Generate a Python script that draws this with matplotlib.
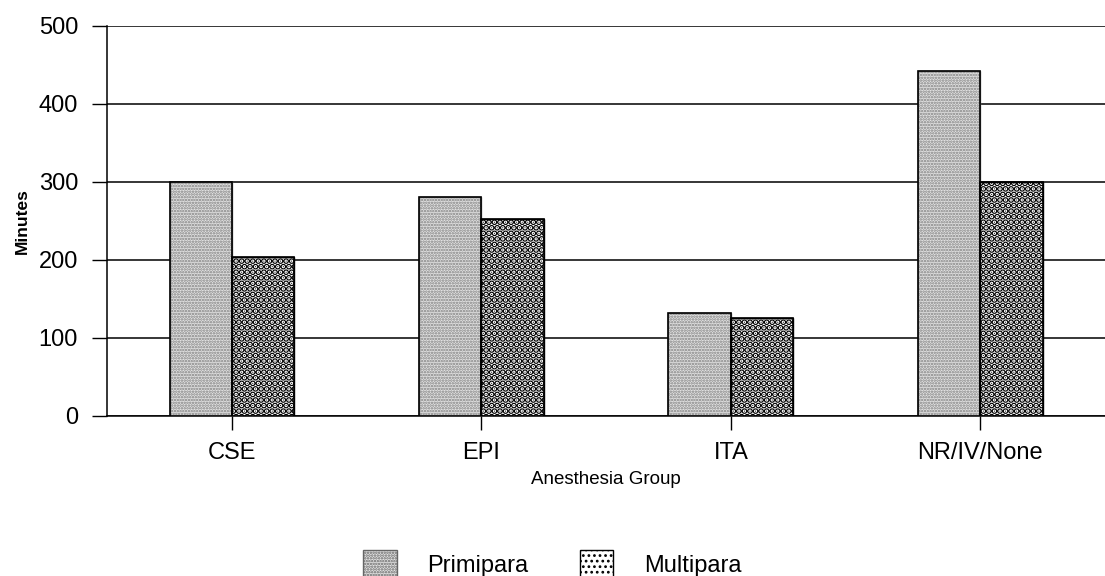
import numpy as np
import matplotlib.pyplot as plt
from matplotlib.patches import Patch

plt.rcParams['font.family'] = ['Liberation Sans', 'DejaVu Sans']
plt.rcParams['hatch.linewidth'] = 1.2

# dados
groups = ['CSE', 'EPI', 'ITA', 'NR/IV/None']
primipara = [300, 280, 132, 442]
multipara = [204, 253, 125, 300]

x = np.arange(len(groups))
w = 0.25

fig = plt.figure(figsize=(11.05, 5.76), dpi=100)
ax = fig.add_axes([0.097, 0.278, 0.903, 0.677])

prim_kw = dict(facecolor='#e2e2e2', edgecolor='#808080', hatch='......')
multi_kw = dict(facecolor='white', edgecolor='black', hatch='...')

b1 = ax.bar(x - w / 2, primipara, w, linewidth=1.0, zorder=3, **prim_kw)
b2 = ax.bar(x + w / 2, multipara, w, linewidth=1.0, zorder=3, **multi_kw)
for p in b2:
    if hasattr(p, 'set_hatch_linewidth'):
        p.set_hatch_linewidth(3.2)
# contorno preto das barras
ax.bar(x - w / 2, primipara, w, fill=False, edgecolor='black', linewidth=1.2, zorder=4)
ax.bar(x + w / 2, multipara, w, fill=False, edgecolor='black', linewidth=1.2, zorder=4)

ax.set_xlim(-0.5, 3.5)
ax.set_ylim(0, 500)
ax.set_yticks([0, 100, 200, 300, 400, 500])
ax.set_xticks(x)
ax.set_xticklabels(groups)
ax.yaxis.grid(True, color='black', linewidth=1.1, zorder=0)
ax.set_axisbelow(True)

for s in ['top', 'right']:
    ax.spines[s].set_visible(False)
ax.spines['left'].set_linewidth(1.1)
ax.spines['bottom'].set_linewidth(1.1)

ax.tick_params(axis='y', length=11, width=1.0, labelsize=17, pad=10)
ax.tick_params(axis='x', length=10, width=1.0, labelsize=17, pad=9)
ax.set_ylabel('Minutes', fontsize=12.5, fontweight='bold', labelpad=6)
ax.set_xlabel('Anesthesia Group', fontsize=13.5, labelpad=5)

leg_multi = Patch(facecolor='white', edgecolor='black', hatch='...', label='Multipara')
if hasattr(leg_multi, 'set_hatch_linewidth'):
    leg_multi.set_hatch_linewidth(3.2)
handles = [
    Patch(facecolor='#e2e2e2', edgecolor='#666666', hatch='......', label='Primipara'),
    leg_multi,
]
fig.legend(handles=handles, loc='center', bbox_to_anchor=(0.5, 0.02), ncol=2,
           frameon=False, fontsize=17, handlelength=1.4, handleheight=1.5,
           handletextpad=1.3, columnspacing=2.2)

fig.savefig('out.png', dpi=100)
